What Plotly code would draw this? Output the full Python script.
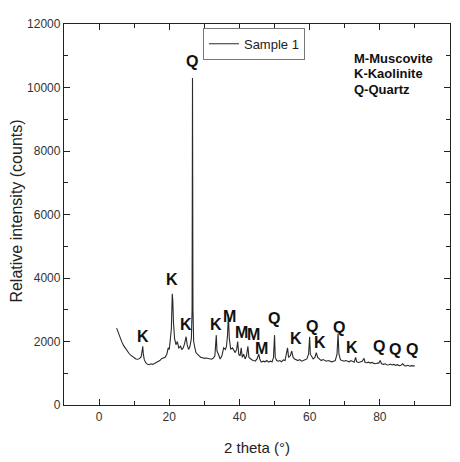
import plotly.graph_objects as go

two_theta = [5.0, 5.5, 6.0, 6.5, 7.0, 7.5, 8.0, 8.5, 9.0, 9.5, 10.0, 10.5, 11.0, 11.5, 12.0, 12.3, 12.45, 12.6, 12.9,
             13.3, 13.8, 14.3, 14.8, 15.3, 15.8, 16.3, 16.8, 17.3, 17.8, 18.3, 18.8, 19.3, 19.7, 20.0, 20.3, 20.6,
             20.85, 21.0, 21.2, 21.5, 21.9, 22.3, 22.7, 23.2, 23.6, 24.0, 24.4, 24.8, 25.1, 25.5, 25.9, 26.3, 26.5,
             26.62, 26.75, 26.95, 27.3, 27.6, 28.0, 28.5, 29.0, 29.5, 30.0, 30.5, 31.0, 31.5, 32.0, 32.5, 33.0,
             33.4, 33.6, 34.0, 34.5, 35.0, 35.5, 36.0, 36.3, 36.6, 36.85, 37.1, 37.5, 38.0, 38.4, 38.8, 39.2, 39.5,
             39.8, 40.2, 40.5, 40.8, 41.2, 41.6, 42.0, 42.4, 42.7, 43.1, 43.6, 44.0, 44.5, 45.0, 45.5, 45.8, 46.2,
             46.8, 47.3, 47.8, 48.3, 48.8, 49.3, 49.7, 50.0, 50.2, 50.6, 51.0, 51.5, 52.0, 52.5, 53.0, 53.4, 53.7,
             54.0, 54.5, 54.9, 55.3, 55.7, 56.2, 56.7, 57.2, 57.7, 58.2, 58.7, 59.2, 59.7, 60.0, 60.2, 60.6, 61.0,
             61.5, 61.9, 62.3, 62.8, 63.3, 63.8, 64.3, 64.8, 65.3, 65.8, 66.3, 66.8, 67.3, 67.8, 68.1, 68.35, 68.8,
             69.3, 69.8, 70.3, 70.8, 71.3, 71.8, 72.2, 72.7, 73.1, 73.4, 74.0, 74.5, 75.0, 75.5, 75.8, 76.3, 76.8,
             77.3, 77.8, 78.3, 78.8, 79.3, 79.7, 80.1, 80.5, 81.0, 81.5, 82.0, 82.5, 83.0, 83.5, 84.0, 84.5, 85.0,
             85.5, 86.0, 86.5, 87.0, 87.5, 88.0, 88.5, 89.0, 89.5, 90.0]
intensity = [2420, 2250, 2100, 1980, 1870, 1780, 1700, 1630, 1570, 1520, 1480, 1450, 1440, 1460, 1520, 1700, 1850, 1600, 1420,
             1330, 1280, 1270, 1300, 1280, 1310, 1330, 1380, 1400, 1460, 1480, 1500, 1600, 1800, 1750, 2000, 2400,
             3500, 3300, 2600, 2100, 1900, 2000, 1800, 1850, 1750, 1800, 1950, 2150, 1900, 1750, 1850, 2100, 3000,
             10300, 3000, 2000, 1800, 1650, 1600, 1550, 1500, 1490, 1470, 1480, 1460, 1450, 1440, 1470, 1550,
             2200, 1700, 1600, 1450, 1550, 1800, 1750, 1850, 2200, 2850, 2100, 1750, 1800, 1700, 1650, 1750, 2000,
             1600, 1550, 1800, 1500, 1600, 1450, 1550, 1850, 1500, 1450, 1420, 1400, 1380, 1450, 1600, 1450, 1350,
             1380, 1360, 1400, 1350, 1380, 1360, 1500, 2200, 1500, 1400, 1380, 1400, 1360, 1420, 1400, 1600, 1800,
             1500, 1550, 1700, 1500, 1450, 1420, 1400, 1430, 1380, 1400, 1420, 1450, 1600, 2150, 1600, 1500, 1450,
             1500, 1650, 1500, 1450, 1400, 1430, 1400, 1380, 1400, 1380, 1360, 1380, 1400, 1600, 2250, 1600, 1420,
             1400, 1380, 1400, 1370, 1360, 1400, 1380, 1350, 1500, 1360, 1340, 1350, 1380, 1470, 1340, 1330, 1350,
             1320, 1340, 1310, 1300, 1320, 1320, 1400, 1300, 1280, 1300, 1270, 1260, 1290, 1260, 1280, 1250, 1270,
             1240, 1250, 1300, 1240, 1230, 1250, 1220, 1240, 1230, 1230]

peak_labels = ["Q", "K", "K", "K", "K", "M", "M", "M", "M", "Q", "K", "Q", "K", "Q", "K", "Q", "Q", "Q"]
peak_x = [26.4, 12.4, 20.7, 24.9, 33.2, 37.3, 40.6, 43.9, 46.3, 49.9, 56.0, 60.8, 63.0, 68.5, 72.2, 79.7, 84.4, 89.2]
peak_y = [10830, 2165, 3960, 2545, 2525, 2780, 2270, 2225, 1785, 2710, 2090, 2475, 1960, 2455, 1825, 1855, 1750, 1750]

phase_key = ["M-Muscovite", "K-Kaolinite", "Q-Quartz"]

x_ticks = [0, 20, 40, 60, 80, 100]
y_ticks = [0, 2000, 4000, 6000, 8000, 10000, 12000]

FONT = "Liberation Sans, Arial, sans-serif"

fig = go.Figure()
fig.add_trace(go.Scatter(x=two_theta, y=intensity, mode="lines", name="Sample 1",
                         line=dict(color="#2a2a2a", width=1.1)))

for lab, px, py in zip(peak_labels, peak_x, peak_y):
    fig.add_annotation(x=px, y=py, text=lab, showarrow=False, xref="x", yref="y",
                       font=dict(family=FONT, size=16, color="#111", weight="bold"))

key_y = [0.91, 0.871, 0.827]
for t, ky in zip(phase_key, key_y):
    fig.add_annotation(x=0.746, y=ky, xref="paper", yref="paper", text=t, showarrow=False,
                       xanchor="left", yanchor="middle",
                       font=dict(family=FONT, size=13, color="#111", weight="bold"))

fig.add_annotation(x=-0.122, y=0.51, xref="paper", yref="paper", text="Relative intensity (counts)",
                   textangle=-90, showarrow=False, xanchor="center", yanchor="middle",
                   font=dict(family=FONT, size=16, color="#222"))
fig.add_annotation(x=0.5, y=-0.111, xref="paper", yref="paper", text="2 theta (°)",
                   showarrow=False, xanchor="center", yanchor="middle",
                   font=dict(family=FONT, size=15, color="#222"))

axis_common = dict(showline=True, linecolor="#222", linewidth=1.3, mirror="ticks", ticks="inside",
                   ticklen=6, tickcolor="#222", showgrid=False, zeroline=False,
                   tickfont=dict(family=FONT, size=12, color="#333"))

fig.update_xaxes(range=[-10, 100], tickvals=x_ticks, ticktext=[str(v) for v in x_ticks],
                 minor=dict(ticks="inside", tickvals=[-10, 10, 30, 50, 70, 90], ticklen=4, tickcolor="#222"),
                 **axis_common)
fig.update_yaxes(range=[0, 12000], tickvals=y_ticks, ticktext=[str(v) for v in y_ticks],
                 minor=dict(ticks="inside", tickvals=[1000, 3000, 5000, 7000, 9000, 11000], ticklen=4, tickcolor="#222"),
                 **axis_common)

fig.update_layout(
    width=452, height=454,
    margin=dict(l=56, r=10, t=9, b=57),
    plot_bgcolor="white", paper_bgcolor="white",
    showlegend=True,
    legend=dict(x=0.36, y=0.99, xanchor="left", yanchor="top", bgcolor="white",
                bordercolor="#777", borderwidth=1, font=dict(family=FONT, size=13, color="#222"),
                tracegroupgap=0, itemwidth=30),
)

fig.write_html("out.html")
